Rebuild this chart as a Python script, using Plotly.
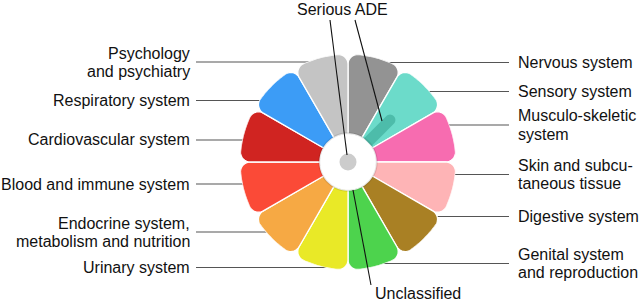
import math
import plotly.graph_objects as go

# ---------------- data ----------------
categories = [
    "Nervous system", "Sensory system", "Musculo-skeletic<br>system",
    "Skin and subcu-<br>taneous tissue", "Digestive system",
    "Genital system<br>and reproduction", "Urinary system",
    "Endocrine system,<br>metabolism and nutrition", "Blood and immune system",
    "Cardiovascular system", "Respiratory system", "Psychology<br>and psychiatry",
]
all_ade = [100, 100, 100, 100, 100, 100, 100, 100, 100, 100, 100, 100]
serious_ade = [0, 60, 0, 0, 0, 0, 0, 0, 0, 0, 0, 0]
colors = ["#939393", "#6cdbca", "#f76cb0", "#feb4b6", "#a98024", "#4dd34d",
          "#e9e927", "#f6a944", "#fb4a37", "#d02421", "#3c9cf6", "#c4c4c4"]
serious_color = "#4dbcaa"
label_side = ["right"] * 6 + ["left"] * 6
label_y_px = [62.5, 91.5, 125, 174.5, 216.5, 263.5, 267.5, 232, 184, 140, 100.5, 62]

# ---------------- geometry helpers ----------------
W, H = 640, 302
CX, CY, RPX = 348, 162, 108      # polar centre / outer radius in pixels
R_MAX = 100
R_IN = 26
SECTOR = 360 / len(categories)
LINE_GAP = 18


def u(a):
    a = math.radians(a)
    return (math.sin(a), math.cos(a))


def to_polar(pts):
    rs, ts = [], []
    for x, y in pts:
        rs.append(math.hypot(x, y))
        ts.append(math.degrees(math.atan2(x, y)))
    return rs, ts


def arc(c, rad, a0, a1, n=14):
    out = []
    d = (a1 - a0 + math.pi) % (2 * math.pi) - math.pi
    for k in range(n + 1):
        t = a0 + d * k / n
        out.append((c[0] + rad * math.cos(t), c[1] + rad * math.sin(t)))
    return out


def petal(tc, half, r_in, R, rho):
    a1, a2 = tc - half, tc + half
    delta = math.degrees(math.asin(rho / (R - rho)))
    pts = []
    pts.append(tuple(r_in * v for v in u(a1)))
    c1 = tuple((R - rho) * v for v in u(a1 + delta))
    proj = c1[0] * u(a1)[0] + c1[1] * u(a1)[1]
    t1 = tuple(proj * v for v in u(a1))
    e1 = tuple(R * v for v in u(a1 + delta))
    pts += arc(c1, rho, math.atan2(t1[1] - c1[1], t1[0] - c1[0]),
               math.atan2(e1[1] - c1[1], e1[0] - c1[0]))
    n = 24
    for k in range(1, n):
        a = a1 + delta + (a2 - a1 - 2 * delta) * k / n
        pts.append(tuple(R * v for v in u(a)))
    c2 = tuple((R - rho) * v for v in u(a2 - delta))
    proj = c2[0] * u(a2)[0] + c2[1] * u(a2)[1]
    t2 = tuple(proj * v for v in u(a2))
    e2 = tuple(R * v for v in u(a2 - delta))
    pts += arc(c2, rho, math.atan2(e2[1] - c2[1], e2[0] - c2[0]),
               math.atan2(t2[1] - c2[1], t2[0] - c2[0]))
    pts.append(tuple(r_in * v for v in u(a2)))
    for k in range(1, 8):
        a = a2 - (a2 - a1) * k / 8
        pts.append(tuple(r_in * v for v in u(a)))
    pts.append(pts[0])
    return pts


def rounded_bar(tc, r_in, L, hw):
    ax, ay = u(tc)
    vx, vy = ay, -ax
    pts = [(r_in * ax - hw * vx, r_in * ay - hw * vy)]
    cx, cy = (L - hw) * ax, (L - hw) * ay
    a0 = math.atan2(-vy, -vx)
    for k in range(17):
        t = a0 - math.pi * k / 16
        pts.append((cx + hw * math.cos(t), cy + hw * math.sin(t)))
    pts.append((r_in * ax + hw * vx, r_in * ay + hw * vy))
    pts.append(pts[0])
    return pts


fig = go.Figure()

for i, (cat, val, col) in enumerate(zip(categories, all_ade, colors)):
    rs, ts = to_polar(petal(i * SECTOR + SECTOR / 2, SECTOR / 2, R_IN, val, 9))
    fig.add_trace(go.Scatterpolar(r=rs, theta=ts, mode="lines", fill="toself",
                                  fillcolor=col, line=dict(color="white", width=1.3),
                                  hoverinfo="text", text=cat.replace("<br>", " ")))

for i, val in enumerate(serious_ade):
    if val > 0:
        rs, ts = to_polar(rounded_bar(i * SECTOR + SECTOR / 2, R_IN, val, 5))
        fig.add_trace(go.Scatterpolar(r=rs, theta=ts, mode="lines", fill="toself",
                                      fillcolor=serious_color,
                                      line=dict(color=serious_color, width=0)))

ring_t = [k * 3 for k in range(121)]
fig.add_trace(go.Scatterpolar(r=[R_IN + 0.6] * len(ring_t), theta=ring_t, mode="lines",
                              line=dict(color="rgba(0,0,0,0.10)", width=2)))
fig.add_trace(go.Scatterpolar(r=[0], theta=[0], mode="markers",
                              marker=dict(size=17, color="#cccccc")))


def px(x):
    return x / W


def py(y):
    return 1 - y / H


font = dict(family="Liberation Sans, Arial, sans-serif", size=16, color="#111111")
shapes, annotations = [], []
for cat, side, ly in zip(categories, label_side, label_y_px):
    dy = ly - CY
    edge = math.sqrt(max(RPX ** 2 - dy ** 2, 0))
    lines = cat.split("<br>")
    n = len(lines)
    for k, txt in enumerate(lines):
        ty = ly + (k - (n - 1) / 2) * LINE_GAP
        if side == "right":
            annotations.append(dict(x=px(516), y=py(ty), text=txt, xanchor="left",
                                    yanchor="middle", align="left", showarrow=False,
                                    font=font))
        else:
            annotations.append(dict(x=px(192), y=py(ty), text=txt, xanchor="right",
                                    yanchor="middle", align="right", showarrow=False,
                                    font=font))
    if side == "right":
        x0, x1 = CX + edge - 9, 509
    else:
        x0, x1 = 196, CX - edge + 9
    shapes.append(dict(type="line", xref="paper", yref="paper", x0=px(x0), x1=px(x1),
                       y0=py(ly), y1=py(ly), layer="below",
                       line=dict(color="#555555", width=1.2)))

annotations.append(dict(x=px(342), y=py(10), text="Serious ADE", xanchor="center",
                        yanchor="middle", showarrow=False, font=font))
annotations.append(dict(x=px(373), y=py(293), text="Unclassified", xanchor="left",
                        yanchor="middle", showarrow=False, font=font))
for (x0, y0, x1, y1) in [(330, 20, 347, 155), (355, 20, 382, 121), (353, 190, 371, 285)]:
    shapes.append(dict(type="line", xref="paper", yref="paper", x0=px(x0), y0=py(y0),
                       x1=px(x1), y1=py(y1), layer="above",
                       line=dict(color="#111111", width=1.1)))

fig.update_layout(
    width=W, height=H, margin=dict(l=0, r=0, t=0, b=0),
    paper_bgcolor="white", showlegend=False,
    polar=dict(
        domain=dict(x=[(CX - RPX) / W, (CX + RPX) / W],
                    y=[(H - CY - RPX) / H, (H - CY + RPX) / H]),
        bgcolor="rgba(0,0,0,0)",
        radialaxis=dict(visible=False, range=[0, R_MAX]),
        angularaxis=dict(visible=False, rotation=90, direction="clockwise"),
    ),
    shapes=shapes, annotations=annotations,
)

fig.write_html("out.html", config={"displayModeBar": False},
               post_script="document.body.style.margin='0';document.body.style.overflow='hidden';")
